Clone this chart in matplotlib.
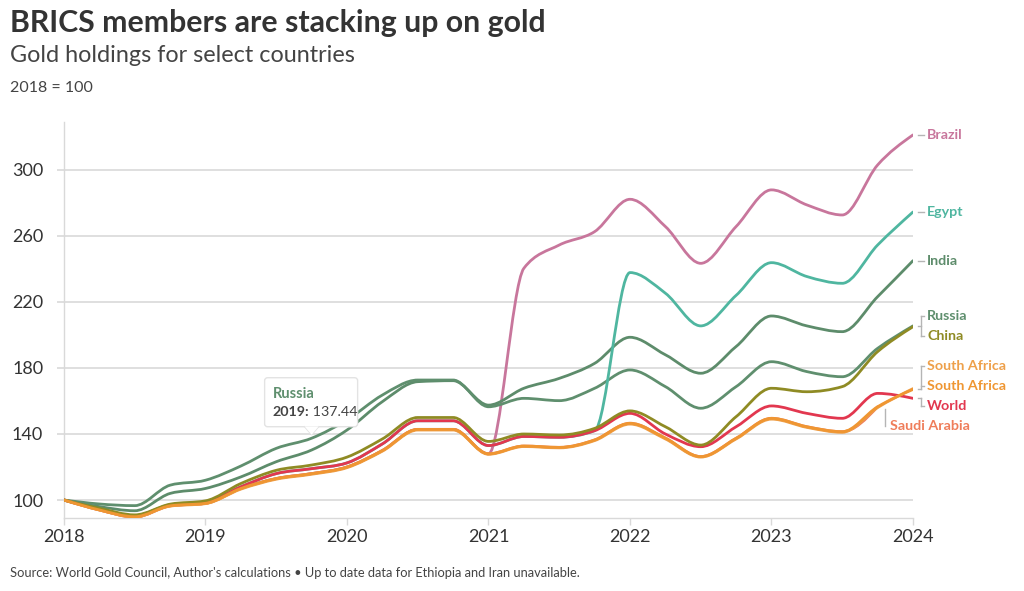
import numpy as np
import matplotlib
matplotlib.use("Agg")
import matplotlib.pyplot as plt
from matplotlib.path import Path
from matplotlib.patches import PathPatch, FancyBboxPatch, Polygon
import matplotlib.transforms as mtransforms

plt.rcParams['font.family'] = ['Lato', 'DejaVu Sans']

# quarterly index values, 2018 = 100
quarters = [2018.0, 2018.25, 2018.5, 2018.75,
            2019.0, 2019.25, 2019.5, 2019.75,
            2020.0, 2020.25, 2020.5, 2020.75,
            2021.0, 2021.25, 2021.5, 2021.75,
            2022.0, 2022.25, 2022.5, 2022.75,
            2023.0, 2023.25, 2023.5, 2023.75,
            2024.0]

brazil = [100, 94, 89.7, 96.5, 98, 107, 113, 116, 120, 130, 142.8, 142.8,
          128, 240.4, 254.5, 262.6, 282.2, 265.7, 243.4, 265.7, 287.9, 278.8, 272.7, 303, 321.2]
egypt = [100, 94.5, 90.5, 97, 98.5, 108, 116, 119, 122.5, 134, 148, 148,
         133, 138.5, 138, 142, 237.8, 225.3, 205.5, 224, 243.8, 235.4, 231.3, 254.5, 274.5]
india = [100, 96, 93.5, 104, 107, 114, 123.2, 130.3, 142.4, 159.6, 171.7, 172.3,
         157.5, 167.7, 173.7, 182.8, 198.6, 188, 176.8, 193, 211.5, 205.5, 202, 223.2, 245]
russia = [100, 97.6, 96.6, 109, 112, 120.6, 131.3, 137.44, 148.5, 163.6, 172.7, 172.7,
          156.5, 161.6, 160.2, 167.7, 178.8, 168.7, 155.6, 168.7, 183.8, 177.8, 174.7, 191.9, 205.5]
china = [100, 95, 91, 97.5, 99.5, 110, 118, 121.2, 126, 137, 150, 150,
         135.5, 140, 139.4, 143.4, 154, 144.4, 133.3, 150.5, 167.7, 165.6, 168.7, 189.9, 205]
south_africa = [100, 94, 89.9, 96.5, 98, 107, 113, 116, 120, 130, 142.8, 142.8,
                128, 132.7, 131.9, 136.4, 146.5, 137.5, 126.3, 137.4, 149.5, 144.4, 141.4, 156.5, 167]
south_africa_2 = [100, 94, 89.7, 96.3, 97.8, 106.6, 112.6, 115.6, 119.6, 129.6, 142.4, 142.4,
                  127.7, 132.4, 131.6, 136, 146, 137, 126, 137, 149, 144, 141, 156, 167.5]
world = [100, 94.5, 90.5, 97, 98.5, 108, 116, 119, 122.5, 134, 148, 148,
         133, 138.5, 138, 142, 152.5, 140, 132.3, 144.4, 157, 152.5, 149.5, 164.6, 161.6]
saudi_arabia = [100, 94, 89.7, 96.5, 98, 107, 113, 116, 120, 130, 142.8, 142.8,
                128, 132.7, 131.9, 136.4, 146.5, 137.5, 126.3, 137.4, 149.5, 144.4, 141.4, 156.5, np.nan]

# drawing order, bottom first
names = ["Brazil", "Saudi Arabia", "India", "Russia", "Egypt", "World", "South Africa",
         "China", "South Africa"]
series = [brazil, saudi_arabia, india, russia, egypt, world, south_africa_2,
          china, south_africa]
colors = ["#c8769c", "#ef7d5a", "#5d8c6b", "#5f8f6e", "#4fb6a0", "#e2374f", "#eea04a",
          "#8f8b24", "#ef9632"]

label_order = ["Brazil", "Egypt", "India", "Russia", "China", "South Africa",
               "South Africa", "World", "Saudi Arabia"]

y_ticks = [100, 140, 180, 220, 260, 300]
x_ticks = [2018, 2019, 2020, 2021, 2022, 2023, 2024]

grid_col = "#d9d9d9"
text_col = "#333333"
lead_col = "#b5b5b5"


def monotone_path(x, y):
    # d3 curveMonotoneX style cubic segments
    x = np.asarray(x, float)
    y = np.asarray(y, float)
    n = len(x)
    h = np.diff(x)
    s = np.diff(y) / h
    t = np.zeros(n)
    for i in range(1, n - 1):
        p = (s[i - 1] * h[i] + s[i] * h[i - 1]) / (h[i - 1] + h[i])
        t[i] = (np.sign(s[i - 1]) + np.sign(s[i])) * min(abs(s[i - 1]), abs(s[i]), 0.5 * abs(p))
    t[0] = (3 * s[0] - t[1]) / 2
    t[-1] = (3 * s[-1] - t[-2]) / 2
    verts = [(x[0], y[0])]
    codes = [Path.MOVETO]
    for i in range(n - 1):
        d = h[i] / 3
        verts += [(x[i] + d, y[i] + d * t[i]), (x[i + 1] - d, y[i + 1] - d * t[i + 1]), (x[i + 1], y[i + 1])]
        codes += [Path.CURVE4] * 3
    return Path(verts, codes)


def bracket(ax, bx, tick, label_ys, ev):
    lo, hi = min(label_ys + [ev]), max(label_ys + [ev])
    if hi - lo < 1:
        ax.plot([bx - tick, bx + tick], [ev, ev], color=lead_col, lw=1, clip_on=False)
        return
    ax.plot([bx, bx], [lo, hi], color=lead_col, lw=1, clip_on=False)
    ax.plot([bx - tick, bx], [ev, ev], color=lead_col, lw=1, clip_on=False)
    for l in label_ys:
        ax.plot([bx, bx + tick], [l, l], color=lead_col, lw=1, clip_on=False)


fig = plt.figure(figsize=(10.24, 5.91), dpi=100)
ax = fig.add_axes([0.0625, 0.1235, 0.8291, 0.670])

ends = {}
for i, (name, vals, col) in enumerate(zip(names, series, colors)):
    xs = np.array(quarters)
    ys = np.array(vals, float)
    ok = ~np.isnan(ys)
    ax.add_patch(PathPatch(monotone_path(xs[ok], ys[ok]), fill=False, edgecolor=col,
                           lw=2.0, capstyle='round', joinstyle='round', zorder=3 + i))
    ends.setdefault(name, []).append((xs[ok][-1], ys[ok][-1], col))

ax.set_xlim(2018, 2024)
ax.set_ylim(89.1, 329)
ax.set_yticks(y_ticks)
ax.set_xticks(x_ticks)
ax.grid(axis='y', color=grid_col, lw=1.2, zorder=0)
for side in ['top', 'right']:
    ax.spines[side].set_visible(False)
for side in ['left', 'bottom']:
    ax.spines[side].set_color(grid_col)
    ax.spines[side].set_linewidth(1.0)
ax.tick_params(axis='y', length=5, width=1.2, color=grid_col, pad=10, labelsize=13, labelcolor=text_col)
ax.tick_params(axis='x', length=5, width=1.0, color=grid_col, pad=3, labelsize=13, labelcolor=text_col)

# end labels, spread so they do not overlap
used = {}
items = []
for name in label_order:
    k = used.get(name, 0)
    used[name] = k + 1
    ex, ey, col = ends[name][k]
    items.append([name, ex, ey, col])

gap = 12.1
groups = [[it] for it in items]
changed = True
while changed:
    changed = False
    pos = []
    for g in groups:
        c = np.mean([it[2] for it in g])
        top = c + gap * (len(g) - 1) / 2
        pos.append([top - gap * j for j in range(len(g))])
    for j in range(len(groups) - 1):
        if pos[j][-1] - pos[j + 1][0] < gap - 0.01:
            groups[j] = groups[j] + groups[j + 1]
            del groups[j + 1]
            changed = True
            break

bx = 2024.057
tick = 0.022
for g, ps in zip(groups, pos):
    sub = []
    for it, ly in zip(g, ps):
        name, ex, ey, col = it
        if ex < 2024:
            # series ending early: label sits left, with a vertical leader
            lx = ex + 0.05
            ax.plot([lx, lx], [ey - 1.5, ly], color=lead_col, lw=1, clip_on=False, zorder=2)
            ax.text(lx + 0.04, ly, name, color=col, fontsize=10.3, fontweight='bold',
                    va='center', ha='left', clip_on=False)
            continue
        ax.text(2024.1, ly, name, color=col, fontsize=10.3, fontweight='bold',
                va='center', ha='left', clip_on=False)
        # bracket together labels whose lines end at about the same value
        if sub and abs(sub[-1][0][2] - ey) > 3:
            bracket(ax, bx, tick, [l for _, l in sub], np.mean([s[0][2] for s in sub]))
            sub = []
        sub.append((it, ly))
    if sub:
        bracket(ax, bx, tick, [l for _, l in sub], np.mean([s[0][2] for s in sub]))

# tooltip on Russia
tip_x, tip_y = quarters[7], russia[7]
tr = fig.dpi_scale_trans + mtransforms.ScaledTranslation(tip_x, tip_y, ax.transData)
box = FancyBboxPatch((-0.47, 0.115), 0.93, 0.49, boxstyle="round,pad=0,rounding_size=0.03",
                     fc="white", ec="#e3e3e3", lw=1.0, transform=tr, zorder=30, clip_on=False)
ax.add_patch(box)
ax.add_patch(Polygon([(-0.07, 0.118), (0.07, 0.118), (0.0, 0.035)], closed=True, fc="white",
                     ec="none", transform=tr, zorder=31, clip_on=False))
ax.plot([-0.07, 0.0, 0.07], [0.115, 0.035, 0.115], color="#e3e3e3", lw=1.0, transform=tr,
        zorder=30.5, clip_on=False)
ax.text(-0.39, 0.40, "Russia", color="#5f8f6e", fontsize=10.5, fontweight='bold',
        transform=tr, zorder=32, va='baseline')
t1 = ax.text(-0.39, 0.22, "2019:", color="#444444", fontsize=10.3, fontweight='bold',
             transform=tr, zorder=32, va='baseline')
ax.annotate(" 137.44", xy=(1, 0), xycoords=t1, xytext=(0, 0), textcoords='offset points',
            color="#444444", fontsize=10.3, va='bottom', zorder=32)

fig.text(0.0098, 0.946, "BRICS members are stacking up on gold", fontsize=21.8,
         fontweight='bold', color=text_col, va='baseline')
fig.text(0.0098, 0.895, "Gold holdings for select countries", fontsize=16.8,
         color="#444444", va='baseline')
fig.text(0.0098, 0.844, "2018 = 100", fontsize=11.5, color="#444444", va='baseline')
fig.text(0.0098, 0.0237, "Source: World Gold Council, Author's calculations \u2022 Up to date data "
         "for Ethiopia and Iran unavailable.", fontsize=9.3, color="#444444", va='baseline')

fig.savefig("out.png", dpi=100, facecolor="white")
